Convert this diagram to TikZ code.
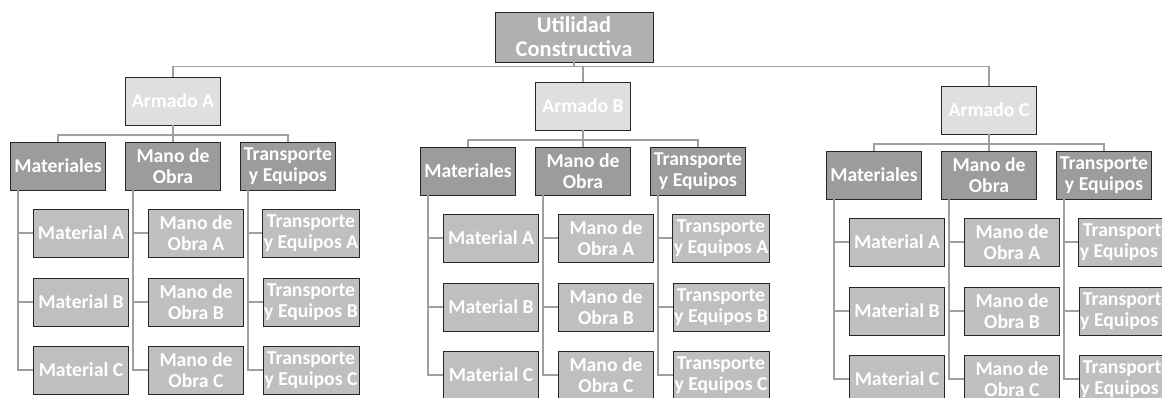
\documentclass[tikz,border=0pt]{standalone}
\usepackage{fontspec}
\setmainfont{Carlito}
\usepackage{tikz}

\tikzset{
  box/.style={rectangle,draw=black!85,text=white,align=center,inner sep=1pt,
    font=\bfseries\fontsize{14}{15}\selectfont,minimum width=2.375cm,minimum height=1.2cm},
  topbox/.style={box,fill=gray!62,minimum width=3.95cm,minimum height=1.25cm,
    font=\bfseries\fontsize{16}{17}\selectfont},
  armbox/.style={box,fill=gray!25},
  catbox/.style={box,fill=gray!78},
  leafbox/.style={box,fill=gray!50},
  link/.style={draw=gray!75,line width=1.6pt}
}

\begin{document}
\begin{tikzpicture}[x=0.025cm,y=-0.025cm]
  \useasboundingbox (0,0) rectangle (1162,398);
  \node[topbox] (u) at (574,37) {Utilidad\\Constructiva};

  \foreach \grp/\gx/\gdy/\gn in {a/173/0/A,b/583/5/B,c/989/9/C}{
    \node[armbox] (g\grp) at (\gx,{101+\gdy}) {Armado \gn};
    \draw[link,line width=.9pt] (u.south) -- ++(0,4) -| (g\grp.north);
    \foreach \col/\cx/\ctxt/\ltxt in {m/-115/Materiales/Material,
        o/0/{Mano de\\Obra}/{Mano de\\Obra},
        t/115/{Transporte\\y Equipos}/{Transporte\\y Equipos}}{
      \node[catbox] (\grp\col) at ({\gx+\cx},{166+\gdy}) {\ctxt};
      \draw[link] (g\grp.south) -- ++(0,10) -| (\grp\col.north);
      \foreach \leaf/\ly in {A/233,B/302,C/370}{
        \node[leafbox] (\grp\col\leaf) at ({\gx+\cx+23},{\ly+\gdy}) {\ltxt\ \leaf};
        \draw[link] ([xshift=.2cm]\grp\col.south west) |- (\grp\col\leaf.west);
      }
    }
  }
\end{tikzpicture}
\end{document}
